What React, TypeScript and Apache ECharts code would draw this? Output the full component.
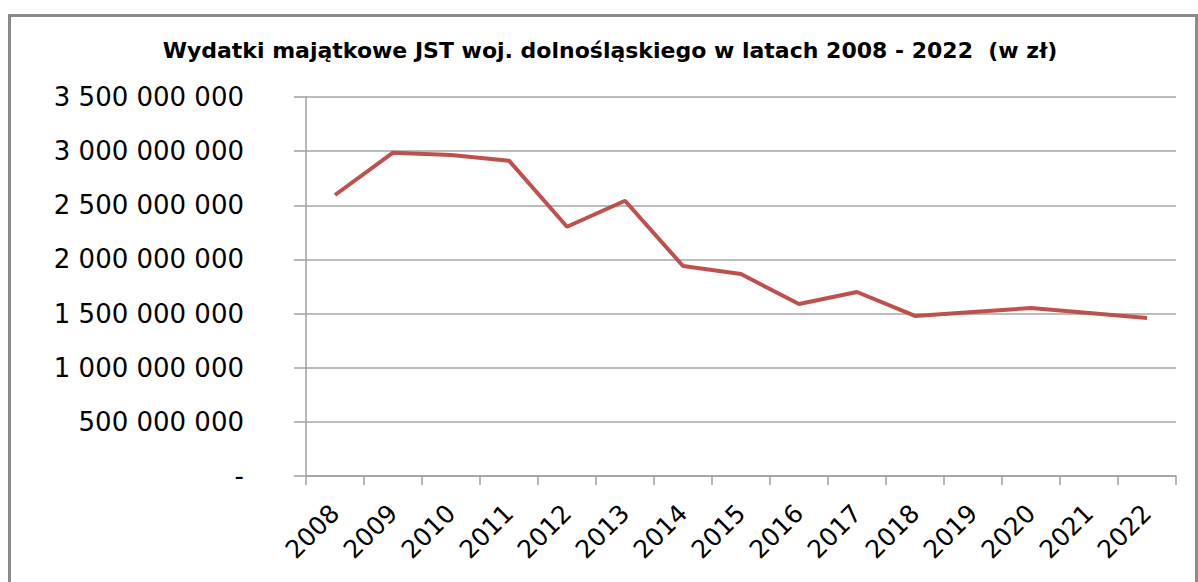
import React, { useEffect, useRef } from "react";
import * as echarts from "echarts";

const TITLE = "Wydatki majątkowe JST woj. dolnośląskiego w latach 2008 - 2022  (w zł)";
const YEARS = ["2008", "2009", "2010", "2011", "2012", "2013", "2014", "2015", "2016", "2017", "2018", "2019", "2020", "2021", "2022"];
const VALUES = [
  2595000000, 2986000000, 2964000000, 2912000000, 2302000000, 2542000000, 1939000000, 1865000000,
  1588000000, 1699000000, 1478000000, 1515000000, 1551000000, 1505000000, 1459000000,
];
const Y_MAX = 3500000000;
const Y_STEP = 500000000;

function fmt(v: number): string {
  if (v === 0) return "-";
  return String(Math.round(v)).replace(/\B(?=(\d{3})+(?!\d))/g, " ");
}

export default function App() {
  const ref = useRef<HTMLDivElement>(null);
  useEffect(() => {
    if (!ref.current) return;
    const chart = echarts.init(ref.current, undefined, { renderer: "svg" });
    const font = "'DejaVu Sans', sans-serif";
    chart.setOption({
      animation: false,
      backgroundColor: "#ffffff",
      graphic: [
        {
          type: "rect",
          shape: { x: 9.5, y: 15.5, width: 1187, height: 620 },
          style: { fill: "none", stroke: "#8a8a8a", lineWidth: 3 },
          silent: true,
        },
        {
          type: "text",
          x: 610,
          y: 50,
          style: {
            text: TITLE,
            fontFamily: font,
            fontWeight: "bold",
            fontSize: 22,
            fill: "#000000",
            align: "center",
            verticalAlign: "middle",
          },
        },
      ],
      grid: { left: 306, top: 97, width: 870, bottom: 106, containLabel: false },
      xAxis: {
        type: "category",
        data: YEARS,
        boundaryGap: true,
        axisLine: { show: true, lineStyle: { color: "#a0a0a0", width: 1.5 } },
        axisTick: { show: true, alignWithLabel: false, length: 9, lineStyle: { color: "#a0a0a0", width: 1.5 } },
        axisLabel: {
          rotate: 45,
          margin: 33,
          interval: 0,
          fontFamily: font,
          fontSize: 25,
          color: "#000000",
        },
        splitLine: { show: false },
      },
      yAxis: {
        type: "value",
        min: 0,
        max: Y_MAX,
        interval: Y_STEP,
        axisLine: { show: true, lineStyle: { color: "#a0a0a0", width: 1.5 } },
        axisTick: { show: true, length: 12, lineStyle: { color: "#a0a0a0", width: 1.5 } },
        axisLabel: {
          margin: 62,
          fontFamily: font,
          fontSize: 26,
          color: "#000000",
          formatter: (v: number) => fmt(v),
        },
        splitLine: { show: true, lineStyle: { color: "#a6a6a6", width: 1.5 } },
      },
      series: [
        {
          type: "line",
          data: VALUES,
          symbol: "none",
          lineStyle: { color: "#C0504D", width: 4 },
          itemStyle: { color: "#C0504D" },
        },
      ],
    });
    return () => chart.dispose();
  }, []);
  return (
    <div
      ref={ref}
      style={{ position: "fixed", left: 0, top: 0, width: 1198, height: 582, background: "#fff" }}
    />
  );
}
